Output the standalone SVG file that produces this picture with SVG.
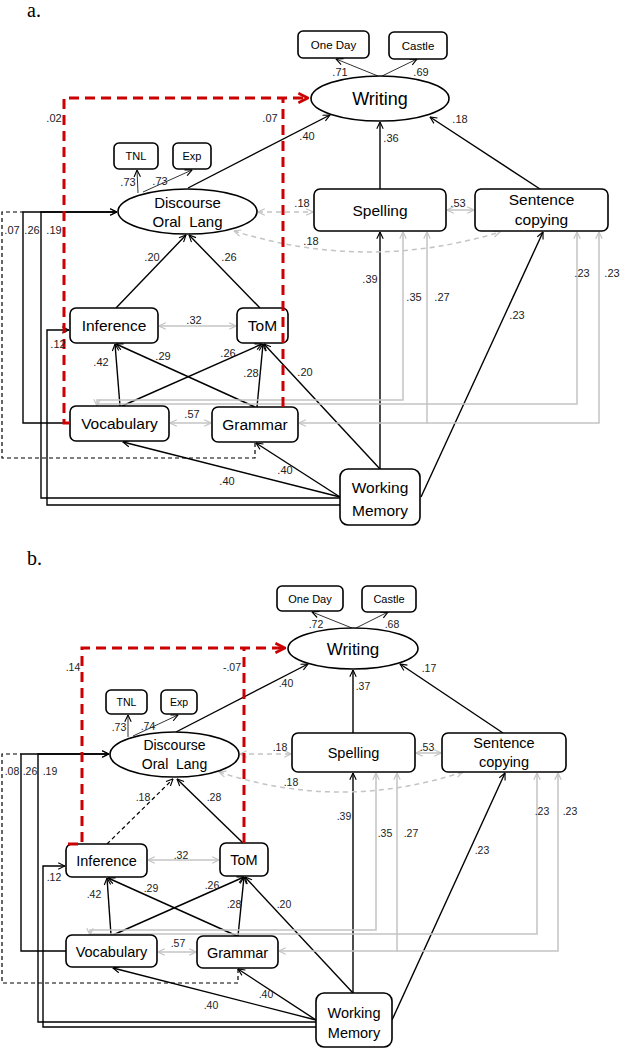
<svg xmlns="http://www.w3.org/2000/svg" width="621" height="1050" viewBox="0 0 621 1050">
<style>
.box{fill:#fff;stroke:#000;stroke-width:1.6}
.ln{fill:none;stroke:#000;stroke-width:1.4}
.th{fill:none;stroke:#333;stroke-width:1}
.dk{fill:none;stroke:#000;stroke-width:1.2;stroke-dasharray:4 3}
.gr{fill:none;stroke:#c4c4c4;stroke-width:1.5}
.gd{fill:none;stroke:#c4c4c4;stroke-width:1.5;stroke-dasharray:5 4}
.red{fill:none;stroke:#cc0000;stroke-width:3;stroke-dasharray:10 6}
.nt{font-family:"Liberation Sans",Arial,sans-serif;text-anchor:middle;fill:#000}
.cf{font-family:"Liberation Sans",Arial,sans-serif;font-size:11px;text-anchor:middle;fill:#222}
.cb{font-family:"Liberation Sans",Arial,sans-serif;font-size:10.5px;text-anchor:middle;fill:#222}
.pl{font-family:"Liberation Serif","Times New Roman",serif;font-size:20px;fill:#000}
</style>
<defs>
<marker id="ah" viewBox="0 0 10 10" refX="9.5" refY="5" markerWidth="8" markerHeight="8" markerUnits="userSpaceOnUse" orient="auto-start-reverse"><path d="M1,1 L9.5,5 L1,9" fill="none" stroke="#000" stroke-width="1.4"/></marker>
<marker id="ag" viewBox="0 0 10 10" refX="9.5" refY="5" markerWidth="8" markerHeight="8" markerUnits="userSpaceOnUse" orient="auto-start-reverse"><path d="M1,1 L9.5,5 L1,9" fill="none" stroke="#c4c4c4" stroke-width="1.5"/></marker>
<marker id="ar" viewBox="0 0 10 10" refX="9" refY="5" markerWidth="12" markerHeight="12" markerUnits="userSpaceOnUse" orient="auto"><path d="M1,1 L9,5 L1,9" fill="none" stroke="#cc0000" stroke-width="2.2"/></marker>
</defs>
<rect width="621" height="1050" fill="#fff"/>
<text class="pl" x="27" y="17" font-size="17">a.</text>
<text class="pl" x="27" y="565">b.</text>

<g id="connectors">
<!-- panel a -->
<path class="th" d="M378,76 L336,59" marker-end="url(#ah)"/>
<path class="th" d="M382,76 L417,59" marker-end="url(#ah)"/>
<path class="th" d="M138,193 L137,170" marker-end="url(#ah)"/>
<path class="th" d="M143,192 L192,170" marker-end="url(#ah)"/>
<path class="ln" d="M188,188 L330,115" marker-end="url(#ah)"/>
<path class="ln" d="M380,189 L380,122" marker-end="url(#ah)"/>
<path class="ln" d="M540,189 L430,117" marker-end="url(#ah)"/>
<path class="ln" d="M116,308 L186,235" marker-end="url(#ah)"/>
<path class="ln" d="M260,308 L189,235" marker-end="url(#ah)"/>
<path class="ln" d="M120,406 L115,344" marker-end="url(#ah)"/>
<path class="ln" d="M122,406 L262,344" marker-end="url(#ah)"/>
<path class="ln" d="M255,407 L116,344" marker-end="url(#ah)"/>
<path class="ln" d="M257,407 L263,344" marker-end="url(#ah)"/>
<path class="ln" d="M380,469 L264,344" marker-end="url(#ah)"/>
<path class="ln" d="M380,469 L380,232" marker-end="url(#ah)"/>
<path class="ln" d="M421,497 L543,232" marker-end="url(#ah)"/>
<path class="ln" d="M340,497 L256,443" marker-end="url(#ah)"/>
<path class="ln" d="M340,497 L123,442" marker-end="url(#ah)"/>
<path class="ln" d="M340,498 L41,498 L41,212 L117,212" marker-end="url(#ah)"/>
<path class="ln" d="M70,423 L23,423 L23,212 L117,212" marker-end="url(#ah)"/>
<path class="ln" d="M340,505 L47,505 L47,330 L69,330" marker-end="url(#ah)"/>
<path class="dk" d="M255,443 L255,458 L2,458 L2,212 L23,212"/>
<path class="gd" d="M258,212 L313,212" marker-start="url(#ag)" marker-end="url(#ag)"/>
<path class="gd" d="M234,231 Q367,272.5 500,232" marker-start="url(#ag)" marker-end="url(#ag)"/>
<path class="gr" d="M447,210 L474,210" marker-start="url(#ag)" marker-end="url(#ag)"/>
<path class="gr" d="M159,326 L236,326" marker-start="url(#ag)" marker-end="url(#ag)"/>
<path class="gr" d="M170,423 L211,423" marker-start="url(#ag)" marker-end="url(#ag)"/>
<path class="gr" d="M97,406 L97,400 L403,400 L403,232" marker-start="url(#ag)" marker-end="url(#ag)"/>
<path class="gr" d="M97,404 L577,404 L577,232" marker-end="url(#ag)"/>
<path class="gr" d="M299,423 L427,423 L427,232" marker-start="url(#ag)" marker-end="url(#ag)"/>
<path class="gr" d="M427,423 L599,423 L599,232" marker-end="url(#ag)"/>
<!-- panel b -->
<path class="th" d="M352,628 L312,612" marker-end="url(#ah)"/>
<path class="th" d="M356,628 L388,612" marker-end="url(#ah)"/>
<path class="th" d="M128,737 L128,715" marker-end="url(#ah)"/>
<path class="th" d="M133,736 L178,715" marker-end="url(#ah)"/>
<path class="ln" d="M176,732 L308,664" marker-end="url(#ah)"/>
<path class="ln" d="M353,733 L353,670" marker-end="url(#ah)"/>
<path class="ln" d="M503,733 L400,664" marker-end="url(#ah)"/>
<path class="dk" d="M107,844 L173,779" marker-end="url(#ah)"/>
<path class="ln" d="M243,843 L177,779" marker-end="url(#ah)"/>
<path class="ln" d="M111,935 L107,878" marker-end="url(#ah)"/>
<path class="ln" d="M113,935 L244,877" marker-end="url(#ah)"/>
<path class="ln" d="M237,936 L108,878" marker-end="url(#ah)"/>
<path class="ln" d="M238,936 L244,877" marker-end="url(#ah)"/>
<path class="ln" d="M353,993 L245,877" marker-end="url(#ah)"/>
<path class="ln" d="M353,993 L353,773" marker-end="url(#ah)"/>
<path class="ln" d="M392,1020 L505,773" marker-end="url(#ah)"/>
<path class="ln" d="M316,1020 L238,969" marker-end="url(#ah)"/>
<path class="ln" d="M316,1020 L113,968" marker-end="url(#ah)"/>
<path class="ln" d="M316,1022 L38,1022 L38,754 L109,754" marker-end="url(#ah)"/>
<path class="ln" d="M66,951 L21,951 L21,754 L109,754" marker-end="url(#ah)"/>
<path class="ln" d="M316,1027 L43,1027 L43,866 L65,866" marker-end="url(#ah)"/>
<path class="dk" d="M238,969 L238,983 L2,983 L2,754 L21,754"/>
<path class="gd" d="M240,754 L291,754" marker-start="url(#ag)" marker-end="url(#ag)"/>
<path class="gd" d="M219,772 Q341,812 463,772" marker-start="url(#ag)" marker-end="url(#ag)"/>
<path class="gr" d="M416,753 L441,753" marker-start="url(#ag)" marker-end="url(#ag)"/>
<path class="gr" d="M148,860 L219,860" marker-start="url(#ag)" marker-end="url(#ag)"/>
<path class="gr" d="M158,952 L196,952" marker-start="url(#ag)" marker-end="url(#ag)"/>
<path class="gr" d="M90,935 L90,930 L376,930 L376,773" marker-start="url(#ag)" marker-end="url(#ag)"/>
<path class="gr" d="M90,934 L537,934 L537,773" marker-end="url(#ag)"/>
<path class="gr" d="M279,951 L397,951 L397,773" marker-start="url(#ag)" marker-end="url(#ag)"/>
<path class="gr" d="M397,951 L558,951 L558,773" marker-end="url(#ag)"/>
</g>

<!-- nodes panel a -->
<g id="a-oneday"><rect class="box" x="298" y="31" width="71" height="27" rx="5"/><text class="nt" x="333.5" y="49" font-size="11.5">One Day</text></g>
<g id="a-castle"><rect class="box" x="389" y="32" width="58" height="27" rx="5"/><text class="nt" x="418" y="50" font-size="11.5">Castle</text></g>
<g id="a-writing"><ellipse class="box" cx="380" cy="98.5" rx="69" ry="22.5"/><text class="nt" x="380" y="105" font-size="18">Writing</text></g>
<g id="a-tnl"><rect class="box" x="114" y="143" width="44" height="26" rx="5"/><text class="nt" x="136" y="160" font-size="11">TNL</text></g>
<g id="a-exp"><rect class="box" x="173" y="143" width="38" height="26" rx="5"/><text class="nt" x="192" y="160" font-size="11">Exp</text></g>
<g id="a-discourse"><ellipse class="box" cx="187.5" cy="211.5" rx="69.5" ry="22.5"/><text class="nt" x="187.5" y="208" font-size="15">Discourse</text><text class="nt" x="187.5" y="227" font-size="15" xml:space="preserve">Oral  Lang</text></g>
<g id="a-spelling"><rect class="box" x="314" y="189" width="132" height="42" rx="6"/><text class="nt" x="380" y="215.5" font-size="15.5">Spelling</text></g>
<g id="a-sentence"><rect class="box" x="475" y="189" width="133" height="42" rx="6"/><text class="nt" x="541.5" y="205" font-size="15.5">Sentence</text><text class="nt" x="541.5" y="225" font-size="15.5">copying</text></g>
<g id="a-inference"><rect class="box" x="70" y="308" width="88" height="35" rx="6"/><text class="nt" x="114" y="331" font-size="15.5">Inference</text></g>
<g id="a-tom"><rect class="box" x="237" y="308" width="51" height="35" rx="6"/><text class="nt" x="262.5" y="331" font-size="15.5">ToM</text></g>
<g id="a-vocabulary"><rect class="box" x="70" y="406" width="99" height="35" rx="6"/><text class="nt" x="119.5" y="429" font-size="15.5">Vocabulary</text></g>
<g id="a-grammar"><rect class="box" x="212" y="407" width="86" height="35" rx="6"/><text class="nt" x="255" y="430" font-size="15.5">Grammar</text></g>
<g id="a-wm"><rect class="box" x="340" y="469" width="80" height="56" rx="8"/><text class="nt" x="380" y="493" font-size="15.5">Working</text><text class="nt" x="380" y="516" font-size="15.5">Memory</text></g>

<!-- nodes panel b -->
<g id="b-oneday"><rect class="box" x="277" y="586" width="66" height="25" rx="5"/><text class="nt" x="310" y="602.5" font-size="11">One Day</text></g>
<g id="b-castle"><rect class="box" x="362" y="586" width="54" height="26" rx="5"/><text class="nt" x="389" y="603" font-size="11">Castle</text></g>
<g id="b-writing"><ellipse class="box" cx="353" cy="648.5" rx="65" ry="20.5"/><text class="nt" x="353" y="654.5" font-size="17">Writing</text></g>
<g id="b-tnl"><rect class="box" x="106" y="690" width="41" height="24" rx="5"/><text class="nt" x="126.5" y="706" font-size="10.5">TNL</text></g>
<g id="b-exp"><rect class="box" x="161" y="690" width="36" height="24" rx="5"/><text class="nt" x="179" y="706" font-size="10.5">Exp</text></g>
<g id="b-discourse"><ellipse class="box" cx="174.5" cy="754.5" rx="64.5" ry="22.5"/><text class="nt" x="174.5" y="750" font-size="14">Discourse</text><text class="nt" x="174.5" y="769" font-size="14" xml:space="preserve">Oral  Lang</text></g>
<g id="b-spelling"><rect class="box" x="292" y="733" width="123" height="39" rx="6"/><text class="nt" x="353.5" y="758" font-size="14.5">Spelling</text></g>
<g id="b-sentence"><rect class="box" x="442" y="733" width="124" height="39" rx="6"/><text class="nt" x="504" y="748" font-size="14.5">Sentence</text><text class="nt" x="504" y="767" font-size="14.5">copying</text></g>
<g id="b-inference"><rect class="box" x="66" y="844" width="81" height="33" rx="6"/><text class="nt" x="106.5" y="866" font-size="14.5">Inference</text></g>
<g id="b-tom"><rect class="box" x="220" y="843" width="48" height="33" rx="6"/><text class="nt" x="244" y="865" font-size="14.5">ToM</text></g>
<g id="b-vocabulary"><rect class="box" x="66" y="935" width="91" height="32" rx="6"/><text class="nt" x="111.5" y="956.5" font-size="14.5">Vocabulary</text></g>
<g id="b-grammar"><rect class="box" x="197" y="936" width="81" height="32" rx="6"/><text class="nt" x="237.5" y="957.5" font-size="14.5">Grammar</text></g>
<g id="b-wm"><rect class="box" x="316" y="993" width="76" height="54" rx="8"/><text class="nt" x="354" y="1018" font-size="14.5">Working</text><text class="nt" x="354" y="1038" font-size="14.5">Memory</text></g>

<g id="red-paths">
<path class="red" d="M70,423 L64,423 L64,98 L308,98" marker-end="url(#ar)"/>
<path class="red" d="M283,407 L283,98"/>
<path class="red" d="M68,844 L82,844 L82,648 L285,648" marker-end="url(#ar)"/>
<path class="red" d="M244,843 L244,648"/>
</g>

<g id="coefficients-a">
<text class="cf" x="340" y="76">.71</text>
<text class="cf" x="421" y="76">.69</text>
<text class="cf" x="54" y="122">.02</text>
<text class="cf" x="270" y="122">.07</text>
<text class="cf" x="128" y="186">.73</text>
<text class="cf" x="160" y="185">.73</text>
<text class="cf" x="307" y="140">.40</text>
<text class="cf" x="391" y="142">.36</text>
<text class="cf" x="460" y="123">.18</text>
<text class="cf" x="458" y="207">.53</text>
<text class="cf" x="302" y="207">.18</text>
<text class="cf" x="311" y="245">.18</text>
<text class="cf" x="152" y="261">.20</text>
<text class="cf" x="229" y="261">.26</text>
<text class="cf" x="194" y="324">.32</text>
<text class="cf" x="101" y="366">.42</text>
<text class="cf" x="163" y="360">.29</text>
<text class="cf" x="228" y="357">.26</text>
<text class="cf" x="251" y="377">.28</text>
<text class="cf" x="305" y="376">.20</text>
<text class="cf" x="192" y="418">.57</text>
<text class="cf" x="58" y="348">.12</text>
<text class="cf" x="285" y="474">.40</text>
<text class="cf" x="227" y="485">.40</text>
<text class="cf" x="12" y="234">.07</text>
<text class="cf" x="32" y="234">.26</text>
<text class="cf" x="54" y="234">.19</text>
<text class="cf" x="370" y="283">.39</text>
<text class="cf" x="414" y="301">.35</text>
<text class="cf" x="442" y="301">.27</text>
<text class="cf" x="517" y="319">.23</text>
<text class="cf" x="582" y="277">.23</text>
<text class="cf" x="612" y="277">.23</text>
</g>
<g id="coefficients-b">
<text class="cb" x="316" y="628">.72</text>
<text class="cb" x="392" y="628">.68</text>
<text class="cb" x="73" y="671">.14</text>
<text class="cb" x="232" y="671">-.07</text>
<text class="cb" x="119" y="731">.73</text>
<text class="cb" x="148" y="730">.74</text>
<text class="cb" x="286" y="687">.40</text>
<text class="cb" x="363" y="690">.37</text>
<text class="cb" x="429" y="672">.17</text>
<text class="cb" x="427" y="751">.53</text>
<text class="cb" x="280" y="751">.18</text>
<text class="cb" x="291" y="786">.18</text>
<text class="cb" x="143" y="801">.18</text>
<text class="cb" x="214" y="801">.28</text>
<text class="cb" x="181" y="859">.32</text>
<text class="cb" x="94" y="898">.42</text>
<text class="cb" x="151" y="892">.29</text>
<text class="cb" x="212" y="889">.26</text>
<text class="cb" x="234" y="908">.28</text>
<text class="cb" x="284" y="908">.20</text>
<text class="cb" x="178" y="947">.57</text>
<text class="cb" x="54" y="881">.12</text>
<text class="cb" x="266" y="998">.40</text>
<text class="cb" x="211" y="1009">.40</text>
<text class="cb" x="12" y="775">.08</text>
<text class="cb" x="30" y="775">.26</text>
<text class="cb" x="50" y="775">.19</text>
<text class="cb" x="344" y="820">.39</text>
<text class="cb" x="385" y="837">.35</text>
<text class="cb" x="411" y="837">.27</text>
<text class="cb" x="482" y="854">.23</text>
<text class="cb" x="542" y="815">.23</text>
<text class="cb" x="570" y="815">.23</text>
</g>
</svg>
